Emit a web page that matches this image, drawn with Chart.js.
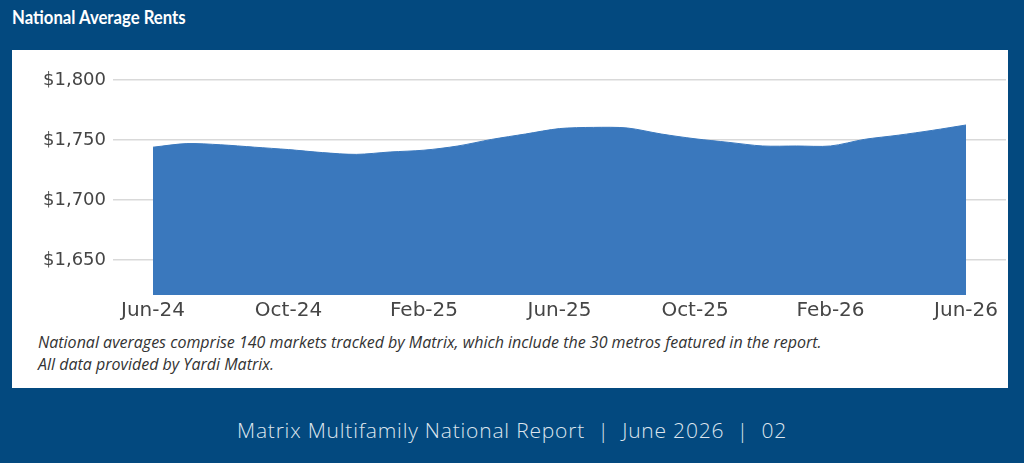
<!DOCTYPE html>
<html>
<head>
<meta charset="utf-8">
<script src="https://cdn.jsdelivr.net/npm/chart.js@4/dist/chart.umd.min.js"></script>
<style>
  html, body { margin: 0; padding: 0; }
  body { width: 1024px; height: 463px; background: #03497f; position: relative; overflow: hidden; font-family: Lato, "Open Sans", sans-serif; }
  #title { position: absolute; left: 12px; top: 5px; color: #fff; font: 700 19px Lato, sans-serif; transform: scaleX(0.88); transform-origin: 0 0; white-space: nowrap; }
  #panel { position: absolute; left: 12px; top: 50px; width: 996px; height: 338px; background: #fff; }
  #wrap { position: absolute; left: 0; top: 0; width: 996px; height: 280px; }
  #note { position: absolute; left: 26px; top: 281px; color: #333; font: italic 16px "Open Sans", sans-serif; line-height: 22px; white-space: nowrap; }
  #footer { position: absolute; left: 0; width: 1024px; top: 416px; text-align: center; color: #dde5ee; font: 300 21px "Open Sans", sans-serif; letter-spacing: 0.8px; white-space: pre; }
</style>
</head>
<body>
<div id="title">National Average Rents</div>
<div id="panel">
  <div id="wrap"><canvas id="c"></canvas></div>
  <div id="note">National averages comprise 140 markets tracked by Matrix, which include the 30 metros featured in the report.<br>All data provided by Yardi Matrix.</div>
</div>
<div id="footer">Matrix Multifamily National Report  |  June 2026  |  02</div>
<script>
const months = ["Jun-24","Jul-24","Aug-24","Sep-24","Oct-24","Nov-24","Dec-24","Jan-25","Feb-25","Mar-25","Apr-25","May-25","Jun-25","Jul-25","Aug-25","Sep-25","Oct-25","Nov-25","Dec-25","Jan-26","Feb-26","Mar-26","Apr-26","May-26","Jun-26"];
const rents = [1744,1747,1746,1744,1742,1739.5,1738,1740,1741.5,1745,1750.5,1755,1759.5,1760.5,1760,1755,1751,1748,1745,1745,1745,1750.5,1754,1758,1762.5];
const yTicks = [1650,1700,1750,1800];
const xTickIdx = [0,4,8,12,16,20,24];

const points = rents.map((v,i)=>({x:i,y:v}));
new Chart(document.getElementById('c'), {
  type: 'line',
  data: { datasets: [{ data: points, fill: 'start', backgroundColor: '#3a78bd', borderColor: '#3a78bd', borderWidth: 1, pointRadius: 0, tension: 0.3 }] },
  options: {
    responsive: true, maintainAspectRatio: false, animation: false,
    layout: { padding: { top: 30, right: 2, left: 0, bottom: 0 } },
    plugins: { legend: { display: false }, tooltip: { enabled: false } },
    scales: {
      x: {
        type: 'linear', min: -1.18, max: 25.18,
        afterBuildTicks: ax => { ax.ticks = xTickIdx.map(v=>({value:v})); },
        afterFit: ax => { ax.height = 35; },
        ticks: { callback: v => months[v], color: '#454545', font: {family: "'DejaVu Sans', sans-serif", size: 20}, padding: 4, maxRotation: 0, autoSkip: false },
        grid: { display: false, drawTicks: false }, border: { display: false }
      },
      y: {
        min: 1620.8, max: 1800,
        afterBuildTicks: ax => { ax.ticks = yTicks.map(v=>({value:v})); },
        afterFit: ax => { ax.width = 101; },
        ticks: { callback: v => '$' + v.toLocaleString('en-US'), color: '#454545', font: {family: "'DejaVu Sans', sans-serif", size: 18}, padding: 7 },
        grid: { color: '#d9d9d9', lineWidth: 1.5, drawTicks: false }, border: { display: false }
      }
    }
  }
});
</script>
</body>
</html>
